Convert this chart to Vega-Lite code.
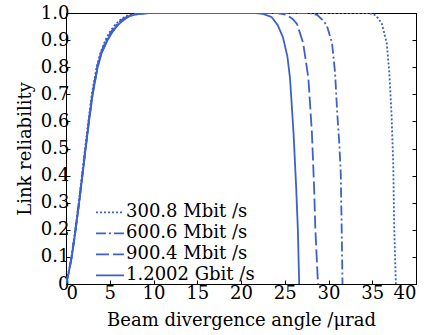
{
  "$schema": "https://vega.github.io/schema/vega-lite/v6.json",
  "width": 350,
  "height": 271,
  "autosize": {"type": "none"},
  "padding": {"left": 66, "top": 13, "right": 10, "bottom": 51},
  "config": {
    "font": "DejaVu Serif",
    "view": {"stroke": "#000", "strokeWidth": 1}
  },
  "data": {
    "values": [
      {"s": "300.8 Mbit /s", "x": 0, "y": 0},
      {"s": "300.8 Mbit /s", "x": 0.3, "y": 0.045},
      {"s": "300.8 Mbit /s", "x": 0.62, "y": 0.1},
      {"s": "300.8 Mbit /s", "x": 1.05, "y": 0.2},
      {"s": "300.8 Mbit /s", "x": 1.45, "y": 0.3},
      {"s": "300.8 Mbit /s", "x": 1.82, "y": 0.4},
      {"s": "300.8 Mbit /s", "x": 2.18, "y": 0.5},
      {"s": "300.8 Mbit /s", "x": 2.55, "y": 0.6},
      {"s": "300.8 Mbit /s", "x": 2.95, "y": 0.7},
      {"s": "300.8 Mbit /s", "x": 3.5, "y": 0.8},
      {"s": "300.8 Mbit /s", "x": 3.9, "y": 0.85},
      {"s": "300.8 Mbit /s", "x": 4.5, "y": 0.9},
      {"s": "300.8 Mbit /s", "x": 5.1, "y": 0.935},
      {"s": "300.8 Mbit /s", "x": 5.7, "y": 0.96},
      {"s": "300.8 Mbit /s", "x": 6.4, "y": 0.98},
      {"s": "300.8 Mbit /s", "x": 7.1, "y": 0.992},
      {"s": "300.8 Mbit /s", "x": 8.1, "y": 0.998},
      {"s": "300.8 Mbit /s", "x": 9.3, "y": 1.0},
      {"s": "300.8 Mbit /s", "x": 34.5, "y": 1.0},
      {"s": "300.8 Mbit /s", "x": 35.2, "y": 0.995},
      {"s": "300.8 Mbit /s", "x": 35.7, "y": 0.98},
      {"s": "300.8 Mbit /s", "x": 36.1, "y": 0.96},
      {"s": "300.8 Mbit /s", "x": 36.65, "y": 0.89},
      {"s": "300.8 Mbit /s", "x": 36.95, "y": 0.78},
      {"s": "300.8 Mbit /s", "x": 37.2, "y": 0.63},
      {"s": "300.8 Mbit /s", "x": 37.4, "y": 0.445},
      {"s": "300.8 Mbit /s", "x": 37.5, "y": 0.22},
      {"s": "300.8 Mbit /s", "x": 37.7, "y": 0.0},

      {"s": "600.6 Mbit /s", "x": 0, "y": 0},
      {"s": "600.6 Mbit /s", "x": 0.3, "y": 0.042},
      {"s": "600.6 Mbit /s", "x": 0.64, "y": 0.1},
      {"s": "600.6 Mbit /s", "x": 1.08, "y": 0.2},
      {"s": "600.6 Mbit /s", "x": 1.48, "y": 0.3},
      {"s": "600.6 Mbit /s", "x": 1.85, "y": 0.4},
      {"s": "600.6 Mbit /s", "x": 2.22, "y": 0.5},
      {"s": "600.6 Mbit /s", "x": 2.6, "y": 0.6},
      {"s": "600.6 Mbit /s", "x": 3.0, "y": 0.7},
      {"s": "600.6 Mbit /s", "x": 3.55, "y": 0.8},
      {"s": "600.6 Mbit /s", "x": 3.95, "y": 0.85},
      {"s": "600.6 Mbit /s", "x": 4.6, "y": 0.9},
      {"s": "600.6 Mbit /s", "x": 5.2, "y": 0.933},
      {"s": "600.6 Mbit /s", "x": 5.8, "y": 0.958},
      {"s": "600.6 Mbit /s", "x": 6.5, "y": 0.978},
      {"s": "600.6 Mbit /s", "x": 7.2, "y": 0.991},
      {"s": "600.6 Mbit /s", "x": 8.2, "y": 0.998},
      {"s": "600.6 Mbit /s", "x": 9.4, "y": 1.0},
      {"s": "600.6 Mbit /s", "x": 27.8, "y": 1.0},
      {"s": "600.6 Mbit /s", "x": 28.7, "y": 0.993},
      {"s": "600.6 Mbit /s", "x": 29.3, "y": 0.975},
      {"s": "600.6 Mbit /s", "x": 29.8, "y": 0.955},
      {"s": "600.6 Mbit /s", "x": 30.4, "y": 0.89},
      {"s": "600.6 Mbit /s", "x": 30.75, "y": 0.78},
      {"s": "600.6 Mbit /s", "x": 31.0, "y": 0.63},
      {"s": "600.6 Mbit /s", "x": 31.25, "y": 0.51},
      {"s": "600.6 Mbit /s", "x": 31.4, "y": 0.41},
      {"s": "600.6 Mbit /s", "x": 31.5, "y": 0.22},
      {"s": "600.6 Mbit /s", "x": 31.6, "y": 0.0},

      {"s": "900.4 Mbit /s", "x": 0, "y": 0},
      {"s": "900.4 Mbit /s", "x": 0.3, "y": 0.04},
      {"s": "900.4 Mbit /s", "x": 0.65, "y": 0.1},
      {"s": "900.4 Mbit /s", "x": 1.1, "y": 0.2},
      {"s": "900.4 Mbit /s", "x": 1.5, "y": 0.3},
      {"s": "900.4 Mbit /s", "x": 1.87, "y": 0.4},
      {"s": "900.4 Mbit /s", "x": 2.24, "y": 0.5},
      {"s": "900.4 Mbit /s", "x": 2.62, "y": 0.6},
      {"s": "900.4 Mbit /s", "x": 3.03, "y": 0.7},
      {"s": "900.4 Mbit /s", "x": 3.6, "y": 0.8},
      {"s": "900.4 Mbit /s", "x": 4.0, "y": 0.85},
      {"s": "900.4 Mbit /s", "x": 4.7, "y": 0.9},
      {"s": "900.4 Mbit /s", "x": 5.3, "y": 0.932},
      {"s": "900.4 Mbit /s", "x": 5.9, "y": 0.956},
      {"s": "900.4 Mbit /s", "x": 6.6, "y": 0.976},
      {"s": "900.4 Mbit /s", "x": 7.3, "y": 0.99},
      {"s": "900.4 Mbit /s", "x": 8.3, "y": 0.997},
      {"s": "900.4 Mbit /s", "x": 9.5, "y": 1.0},
      {"s": "900.4 Mbit /s", "x": 24.2, "y": 1.0},
      {"s": "900.4 Mbit /s", "x": 25.2, "y": 0.993},
      {"s": "900.4 Mbit /s", "x": 25.9, "y": 0.978},
      {"s": "900.4 Mbit /s", "x": 26.4, "y": 0.96},
      {"s": "900.4 Mbit /s", "x": 27.1, "y": 0.89},
      {"s": "900.4 Mbit /s", "x": 27.7, "y": 0.76},
      {"s": "900.4 Mbit /s", "x": 28.1, "y": 0.56},
      {"s": "900.4 Mbit /s", "x": 28.35, "y": 0.36},
      {"s": "900.4 Mbit /s", "x": 28.5, "y": 0.2},
      {"s": "900.4 Mbit /s", "x": 28.8, "y": 0.0},

      {"s": "1.2002 Gbit /s", "x": 0, "y": 0},
      {"s": "1.2002 Gbit /s", "x": 0.3, "y": 0.04},
      {"s": "1.2002 Gbit /s", "x": 0.66, "y": 0.1},
      {"s": "1.2002 Gbit /s", "x": 1.1, "y": 0.2},
      {"s": "1.2002 Gbit /s", "x": 1.5, "y": 0.3},
      {"s": "1.2002 Gbit /s", "x": 1.88, "y": 0.4},
      {"s": "1.2002 Gbit /s", "x": 2.25, "y": 0.5},
      {"s": "1.2002 Gbit /s", "x": 2.63, "y": 0.6},
      {"s": "1.2002 Gbit /s", "x": 3.05, "y": 0.7},
      {"s": "1.2002 Gbit /s", "x": 3.62, "y": 0.8},
      {"s": "1.2002 Gbit /s", "x": 4.05, "y": 0.85},
      {"s": "1.2002 Gbit /s", "x": 4.75, "y": 0.9},
      {"s": "1.2002 Gbit /s", "x": 5.35, "y": 0.932},
      {"s": "1.2002 Gbit /s", "x": 5.95, "y": 0.956},
      {"s": "1.2002 Gbit /s", "x": 6.65, "y": 0.976},
      {"s": "1.2002 Gbit /s", "x": 7.35, "y": 0.99},
      {"s": "1.2002 Gbit /s", "x": 8.4, "y": 0.997},
      {"s": "1.2002 Gbit /s", "x": 9.6, "y": 1.0},
      {"s": "1.2002 Gbit /s", "x": 21.5, "y": 1.0},
      {"s": "1.2002 Gbit /s", "x": 22.5, "y": 0.997},
      {"s": "1.2002 Gbit /s", "x": 23.5, "y": 0.985},
      {"s": "1.2002 Gbit /s", "x": 24.2, "y": 0.955},
      {"s": "1.2002 Gbit /s", "x": 24.8, "y": 0.91},
      {"s": "1.2002 Gbit /s", "x": 25.3, "y": 0.84},
      {"s": "1.2002 Gbit /s", "x": 25.6, "y": 0.76},
      {"s": "1.2002 Gbit /s", "x": 26.0, "y": 0.56},
      {"s": "1.2002 Gbit /s", "x": 26.3, "y": 0.36},
      {"s": "1.2002 Gbit /s", "x": 26.5, "y": 0.2},
      {"s": "1.2002 Gbit /s", "x": 26.65, "y": 0.0}
    ]
  },
  "layer": [
    {
      "mark": {"type": "line", "strokeWidth": 1.8, "color": "#3d60cc", "clip": true},
      "encoding": {
        "x": {
          "field": "x", "type": "quantitative",
          "scale": {"domain": [0, 40], "nice": false},
          "axis": {
            "title": "Beam divergence angle /μrad",
            "values": [0, 5, 10, 15, 20, 25, 30, 35, 40],
            "grid": false, "domainColor": "#000", "tickColor": "#000",
            "tickSize": -4, "labelPadding": 4,
            "labelFontSize": 18, "labelColor": "#000", "labelFont": "DejaVu Serif",
            "titleFontSize": 18, "titleFontWeight": "normal", "titleColor": "#000", "titleFont": "DejaVu Serif",
            "titlePadding": 9
          }
        },
        "y": {
          "field": "y", "type": "quantitative",
          "scale": {"domain": [0, 1], "nice": false},
          "axis": {
            "title": "Link reliability",
            "values": [0, 0.1, 0.2, 0.3, 0.4, 0.5, 0.6, 0.7, 0.8, 0.9, 1.0],
            "labelExpr": "datum.value == 0 ? '0' : format(datum.value, '.1f')",
            "grid": false, "domainColor": "#000", "tickColor": "#000",
            "tickSize": -4, "labelPadding": 1,
            "labelFontSize": 18, "labelColor": "#000", "labelFont": "DejaVu Serif",
            "titleFontSize": 18, "titleFontWeight": "normal", "titleColor": "#000", "titleFont": "DejaVu Serif",
            "titlePadding": 6
          }
        },
        "strokeDash": {
          "field": "s", "type": "nominal",
          "scale": {
            "domain": ["300.8 Mbit /s", "600.6 Mbit /s", "900.4 Mbit /s", "1.2002 Gbit /s"],
            "range": [[2, 2], [10, 3, 2, 3], [13, 4], [1, 0]]
          },
          "legend": {
            "orient": "none", "legendX": 29, "legendY": 189,
            "title": null, "symbolType": "stroke", "symbolSize": 784,
            "symbolStrokeWidth": 1.8, "symbolStrokeColor": "#3d60cc",
            "labelFontSize": 18, "labelFont": "DejaVu Serif", "labelColor": "#000",
            "labelOffset": 1, "rowPadding": 0, "clipHeight": 20.7
          }
        }
      }
    },
    {
      "mark": {"type": "line", "opacity": 0},
      "encoding": {
        "x": {"field": "x", "type": "quantitative"},
        "y": {
          "field": "y", "type": "quantitative",
          "axis": {
            "orient": "right", "title": null, "labels": false,
            "values": [0, 0.1, 0.2, 0.3, 0.4, 0.5, 0.6, 0.7, 0.8, 0.9, 1.0],
            "grid": false, "domainColor": "#000", "tickColor": "#000", "tickSize": -4
          }
        },
        "detail": {"field": "s", "type": "nominal"}
      }
    }
  ],
  "resolve": {"axis": {"y": "independent"}}
}
